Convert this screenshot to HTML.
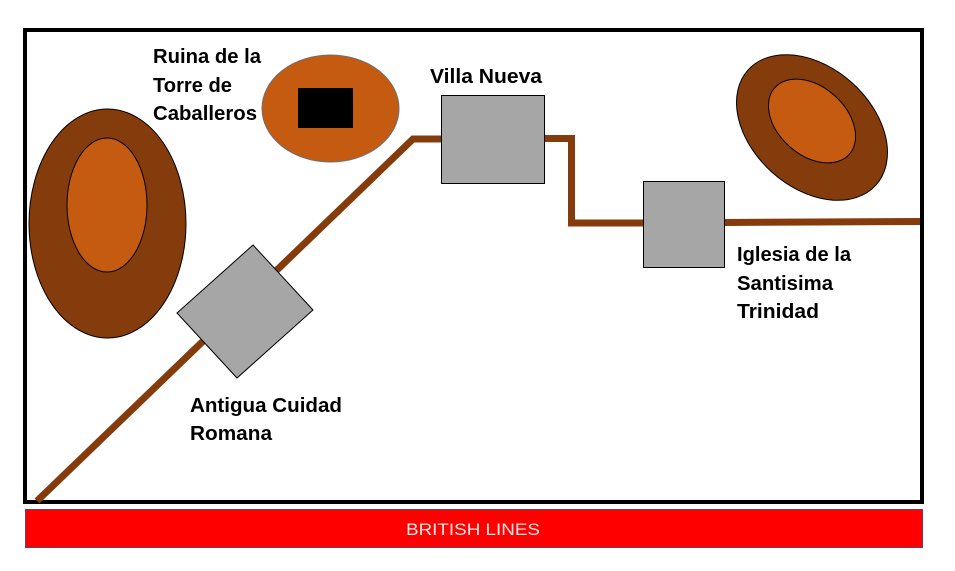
<!DOCTYPE html>
<html>
<head>
<meta charset="utf-8">
<style>
  html, body { margin:0; padding:0; background:#ffffff; }
  svg { display:block; }
  .lbl { font-family: "Liberation Sans", Arial, sans-serif; font-weight: bold; font-size: 20px; fill: #000; }
</style>
</head>
<body>
<svg width="955" height="571" viewBox="0 0 955 571" xmlns="http://www.w3.org/2000/svg">
  <rect x="0" y="0" width="955" height="571" fill="#ffffff"/>

  <!-- frame -->
  <rect x="25" y="30" width="897" height="472" fill="#ffffff" stroke="#000000" stroke-width="4"/>

  <!-- left hill -->
  <ellipse cx="107.5" cy="223.5" rx="78.5" ry="114.5" fill="#843c0c" stroke="#000" stroke-width="1"/>
  <ellipse cx="107" cy="205" rx="40" ry="67" fill="#c55a11" stroke="#000" stroke-width="1"/>

  <!-- top ruin -->
  <ellipse cx="330.5" cy="108.5" rx="68.5" ry="53.5" fill="#c55a11" stroke="#6f6f6f" stroke-width="1"/>
  <rect x="298" y="88" width="55" height="40" fill="#000000"/>

  <!-- right hill -->
  <ellipse cx="812" cy="127.5" rx="86" ry="60" transform="rotate(42 812 127.5)" fill="#843c0c" stroke="#000" stroke-width="1"/>
  <ellipse cx="812" cy="121" rx="50" ry="34" transform="rotate(42 812 121)" fill="#c55a11" stroke="#000" stroke-width="1"/>

  <!-- road -->
  <polyline points="37,501 413,139 441,139" fill="none" stroke="#843c0c" stroke-width="7" stroke-linejoin="miter"/>
  <polyline points="544,138.5 571.5,138.5 571.5,223 643,223" fill="none" stroke="#843c0c" stroke-width="7" stroke-linejoin="miter"/>
  <line x1="724" y1="222.5" x2="920" y2="221.5" stroke="#843c0c" stroke-width="7"/>

  <!-- buildings -->
  <polygon points="253,245 313,310 237,378 177,313" fill="#a6a6a6" stroke="#000" stroke-width="1"/>
  <rect x="441.5" y="95.5" width="103" height="88" fill="#a6a6a6" stroke="#000" stroke-width="1"/>
  <rect x="643.5" y="181.5" width="81" height="86" fill="#a6a6a6" stroke="#000" stroke-width="1"/>

  <!-- labels -->
  <text class="lbl" x="153" y="63" textLength="108" lengthAdjust="spacingAndGlyphs">Ruina de la</text>
  <text class="lbl" x="153" y="92" textLength="79" lengthAdjust="spacingAndGlyphs">Torre de</text>
  <text class="lbl" x="153" y="120" textLength="104" lengthAdjust="spacingAndGlyphs">Caballeros</text>

  <text class="lbl" x="430" y="83" textLength="112" lengthAdjust="spacingAndGlyphs">Villa Nueva</text>

  <text class="lbl" x="737" y="261" textLength="114" lengthAdjust="spacingAndGlyphs">Iglesia de la</text>
  <text class="lbl" x="737" y="290" textLength="96" lengthAdjust="spacingAndGlyphs">Santisima</text>
  <text class="lbl" x="737" y="318" textLength="82" lengthAdjust="spacingAndGlyphs">Trinidad</text>

  <text class="lbl" x="190" y="412" textLength="152" lengthAdjust="spacingAndGlyphs">Antigua Cuidad</text>
  <text class="lbl" x="190" y="440" textLength="82" lengthAdjust="spacingAndGlyphs">Romana</text>

  <!-- British lines bar -->
  <rect x="25.5" y="509.5" width="897" height="38" fill="#ff0000" stroke="#7a3a62" stroke-width="1"/>
  <text x="406" y="535" font-family="Liberation Sans, Arial, sans-serif" font-size="17" fill="#fce4e4" textLength="134" lengthAdjust="spacingAndGlyphs">BRITISH LINES</text>
</svg>
</body>
</html>
